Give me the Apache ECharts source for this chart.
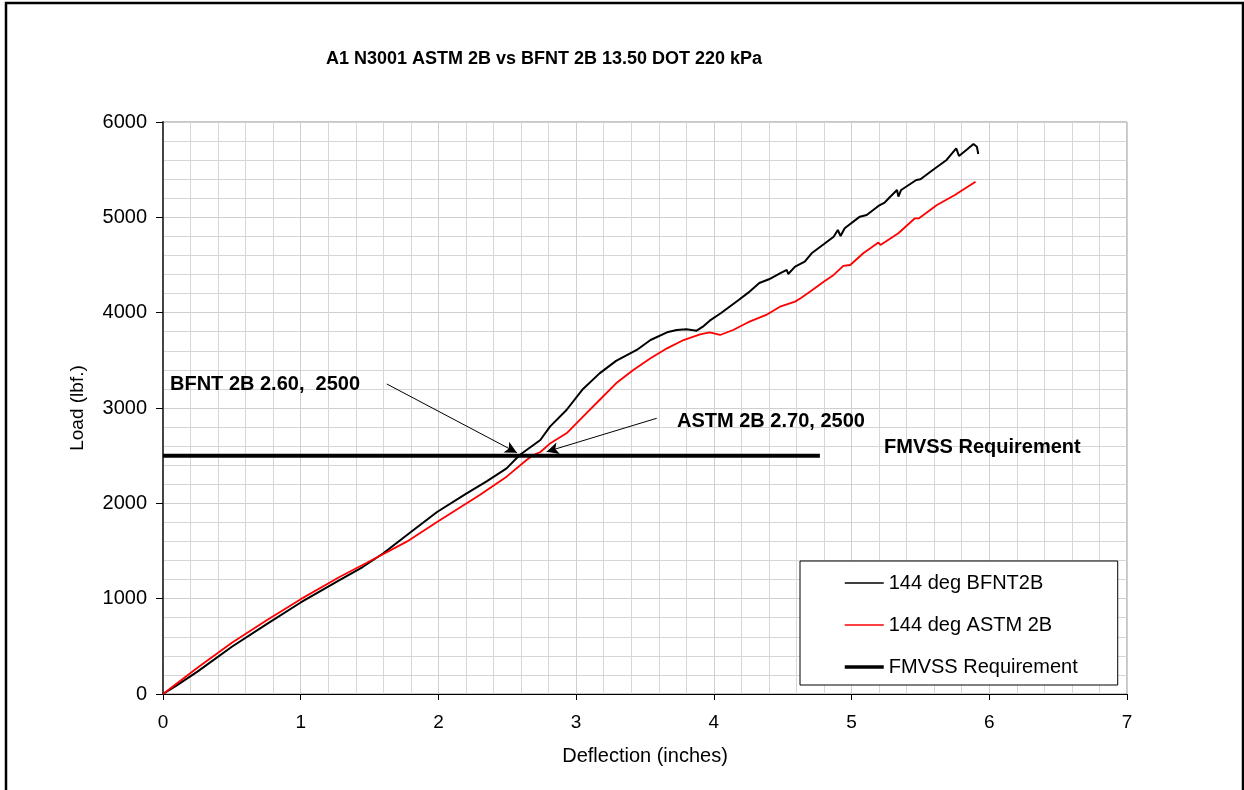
<!DOCTYPE html>
<html><head><meta charset="utf-8">
<script src="https://cdn.jsdelivr.net/npm/echarts@6/dist/echarts.min.js"></script>
<style>html,body{margin:0;padding:0;background:#fff}#c{width:1244px;height:790px}</style>
</head><body><div id="c"></div>
<script>
// ---- data ----
const bfntX = [0,0.1,0.25,0.5,0.75,1.0,1.285,1.45,1.6,1.8,1.99,2.205,2.35,2.495,2.59,2.74,2.81,2.93,3.05,3.17,3.29,3.44,3.54,3.66,3.73,3.80,3.875,3.92,3.97,4.05,4.18,4.25,4.33,4.40,4.48,4.53,4.54,4.59,4.66,4.71,4.80,4.87,4.90,4.92,4.95,5.06,5.11,5.195,5.24,5.27,5.33,5.34,5.36,5.47,5.50,5.59,5.69,5.76,5.78,5.84,5.885,5.91,5.92];
const bfntY = [0,90,235,496,730,960,1196,1332,1476,1700,1909,2105,2230,2367,2507,2664,2805,2979,3200,3363,3494,3609,3713,3794,3818,3826,3811,3853,3916,3994,4133,4210,4311,4350,4413,4448,4406,4483,4535,4623,4720,4797,4867,4804,4885,5007,5025,5119,5154,5200,5287,5217,5287,5392,5399,5497,5602,5724,5643,5714,5769,5741,5664];
const astmX = [0,0.1,0.25,0.5,0.75,1.0,1.285,1.48,1.77,1.99,2.30,2.495,2.64,2.69,2.74,2.81,2.93,3.05,3.17,3.29,3.415,3.54,3.66,3.78,3.90,3.97,4.045,4.14,4.25,4.38,4.48,4.59,4.63,4.70,4.80,4.87,4.94,4.99,5.085,5.195,5.21,5.34,5.46,5.49,5.62,5.75,5.90];
const astmY = [0,110,275,538,770,995,1230,1377,1598,1804,2087,2280,2455,2507,2539,2627,2734,2909,3084,3259,3399,3521,3626,3713,3773,3794,3766,3818,3900,3976,4063,4116,4151,4221,4326,4396,4490,4500,4623,4735,4711,4833,4990,4990,5130,5234,5374];
const fmvssX = [0, 4.77];
const fmvssY = [2500, 2500];
const seriesNames = ['144 deg BFNT2B', '144 deg ASTM 2B', 'FMVSS Requirement'];
const xTicks = [0,1,2,3,4,5,6,7];
const yTicks = [0,1000,2000,3000,4000,5000,6000];
// annotation arrows (from, to) in data units
const arrowBfnt = [[1.625, 3252], [2.57, 2531]];
const arrowAstm = [[3.585, 2892], [2.786, 2542]];
const noteTexts = ['BFNT 2B 2.60,  2500', 'ASTM 2B 2.70, 2500', 'FMVSS Requirement'];

const zip = (a, b) => a.map((v, i) => [v, b[i]]);
const FONT = 'Liberation Sans, Arial, sans-serif';

const chart = echarts.init(document.getElementById('c'), null, {renderer: 'canvas'});
chart.setOption({
  backgroundColor: '#fff',
  animation: false,
  title: {
    text: 'A1 N3001 ASTM 2B vs BFNT 2B 13.50 DOT 220 kPa',
    left: 544, top: 50, textAlign: 'center', padding: 0,
    textStyle: {fontFamily: FONT, fontSize: 18, fontWeight: 'bold', color: '#000'}
  },
  grid: {left: 163, right: 117, top: 122, bottom: 96, show: true, borderColor: '#8c8c8c', borderWidth: 1, backgroundColor: 'transparent'},
  legend: {
    orient: 'vertical', left: 800, top: 561,
    data: [
      {name: seriesNames[0], lineStyle: {width: 1.3}},
      {name: seriesNames[1], lineStyle: {width: 1.3}},
      {name: seriesNames[2], lineStyle: {width: 3.5}}
    ],
    itemStyle: {opacity: 0},
    backgroundColor: '#fff', borderColor: '#000', borderWidth: 1,
    padding: [12, 40, 8, 43],
    itemWidth: 39, itemHeight: 20, itemGap: 22,
    textStyle: {fontFamily: FONT, fontSize: 20, color: '#000', lineHeight: 20, padding: [0,0,0,0]}
  },
  xAxis: {
    type: 'value', min: 0, max: 7, interval: 1,
    name: 'Deflection (inches)', nameLocation: 'middle', nameGap: 52,
    nameTextStyle: {fontFamily: FONT, fontSize: 20, color: '#000'},
    axisLine: {show: true, onZero: false, lineStyle: {color: '#000', width: 1}},
    axisTick: {show: true, length: 6, lineStyle: {color: '#000'}},
    axisLabel: {fontFamily: FONT, fontSize: 19, color: '#000', margin: 19,
      formatter: v => xTicks.includes(v) ? String(v) : ''},
    splitLine: {show: true, lineStyle: {color: '#cfcfcf', width: 1}},
    minorTick: {show: false, splitNumber: 5},
    minorSplitLine: {show: true, lineStyle: {color: '#d6d6d6', width: 1}}
  },
  yAxis: {
    type: 'value', min: 0, max: 6000, interval: 1000,
    name: 'Load (lbf.)', nameLocation: 'middle', nameGap: 76,
    nameTextStyle: {fontFamily: FONT, fontSize: 19, color: '#000'},
    axisLine: {show: true, onZero: false, lineStyle: {color: '#444', width: 2}},
    axisTick: {show: true, length: 7, lineStyle: {color: '#000'}},
    axisLabel: {fontFamily: FONT, fontSize: 20, color: '#000', margin: 16,
      formatter: v => yTicks.includes(v) ? String(v) : ''},
    splitLine: {show: true, lineStyle: {color: '#cfcfcf', width: 1}},
    minorTick: {show: false, splitNumber: 5},
    minorSplitLine: {show: true, lineStyle: {color: '#d6d6d6', width: 1}}
  },
  series: [
    {name: seriesNames[0], type: 'line', data: zip(bfntX, bfntY), symbol: 'none', smooth: false,
     lineStyle: {color: '#000', width: 2}, itemStyle: {color: '#000'}, z: 3},
    {name: seriesNames[1], type: 'line', data: zip(astmX, astmY), symbol: 'none',
     lineStyle: {color: '#ff0000', width: 1.8}, itemStyle: {color: '#ff0000'}, z: 3},
    {name: seriesNames[2], type: 'line', data: zip(fmvssX, fmvssY), symbol: 'none',
     lineStyle: {color: '#000', width: 4}, itemStyle: {color: '#000'}, z: 4,
     markLine: {
       silent: true, symbol: ['none', 'arrow'], symbolSize: [9, 12],
       lineStyle: {color: '#000', width: 1, type: 'solid'},
       label: {show: false},
       data: [
         [{coord: arrowBfnt[0]}, {coord: arrowBfnt[1]}],
         [{coord: arrowAstm[0]}, {coord: arrowAstm[1]}]
       ]
     }}
  ],
  graphic: [
    {type: 'text', left: 170, top: 374, z: 100, style: {text: noteTexts[0], font: 'bold 20px ' + FONT, fill: '#000'}},
    {type: 'text', left: 677, top: 411, z: 100, style: {text: noteTexts[1], font: 'bold 20px ' + FONT, fill: '#000'}},
    {type: 'text', left: 884, top: 437, z: 100, style: {text: noteTexts[2], font: 'bold 20px ' + FONT, fill: '#000'}},
    {type: 'rect', shape: {x: 6, y: 3, width: 1237, height: 820}, style: {fill: 'none', stroke: '#000', lineWidth: 2.5}, silent: true, z: 100}
  ]
});
</script></body></html>
